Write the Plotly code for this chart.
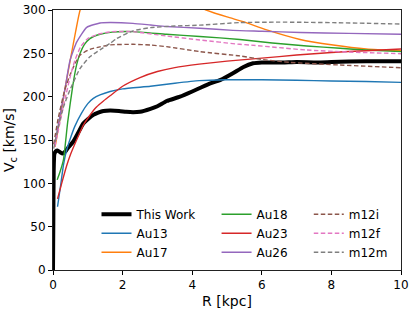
import plotly.graph_objects as go

# ---------------- data ----------------
this_work_r = [0, 0.01, 0.02, 0.04, 0.08, 0.13, 0.2, 0.28, 0.36, 0.45, 0.58, 0.72, 0.87, 1.0, 1.16, 1.3, 1.45,
               1.64, 1.9, 2.1, 2.3, 2.5, 2.8, 3.0, 3.27, 3.65, 4.0, 4.22, 4.5, 4.8, 5.17, 5.46, 5.75, 6.0,
               6.6, 7.0, 7.6, 8.0, 9.0, 10.0]
this_work_v = [0, 60, 115, 134, 137, 138, 136, 134.5, 137, 142, 148, 158, 169, 174, 179, 181.5, 183.5,
               184, 183.5, 182.5, 182, 182.5, 186, 189, 195, 200, 206, 210, 215, 219, 227, 234, 238.5, 239.5,
               239.5, 240, 239.5, 240, 241, 241]

au13_r = [0.13, 0.22, 0.3, 0.39, 0.5, 0.63, 0.82, 1.0, 1.16, 1.35, 1.64, 2.0, 2.8, 3.5, 4.2, 5.0, 6.0, 7.0, 8.0, 9.0, 10.0]
au13_v = [73, 98, 121, 138, 152, 166, 181, 192, 198, 202, 206, 209, 212, 215.5, 218.5, 219.5, 219.5, 219, 218, 217.5, 216.5]

au17_r = [0.06, 0.15, 0.25, 0.34, 0.5, 0.65, 0.78, 1.0, 1.5, 2.0, 2.5, 3.0, 3.5, 4.0, 4.4, 5.0, 5.47, 6.14, 7.1, 8.05, 9.0, 10.0]
au17_v = [142, 163, 186, 208, 243, 275, 300, 318, 330, 333, 331, 325, 316, 307, 300, 292, 286.5, 277, 266, 259.6, 255, 253]

au18_r = [0.12, 0.2, 0.3, 0.42, 0.57, 0.68, 0.78, 0.9, 1.06, 1.35, 1.7, 2.3, 3.26, 4.22, 5.37, 6.3, 7.29, 8.25, 9.0, 10.0]
au18_v = [104, 113, 127, 170, 213, 237, 250, 260, 267, 272, 274.5, 275, 272, 269.5, 266, 262, 258.5, 255.8, 253.8, 252]

au23_r = [0.13, 0.25, 0.39, 0.5, 0.7, 0.87, 1.05, 1.25, 1.45, 1.64, 2.0, 2.5, 3.0, 3.5, 4.2, 5.0, 6.0, 7.0, 8.0, 9.0, 10.0]
au23_v = [82, 100, 120, 133, 152, 167, 178, 188, 195, 201, 212, 222, 229, 233.5, 237.5, 241, 244.5, 248, 251, 253, 255]

au26_r = [0.05, 0.2, 0.34, 0.49, 0.68, 0.97, 1.35, 1.64, 2.3, 2.8, 3.26, 4.22, 5.17, 6.0, 7.1, 8.5, 10.0]
au26_v = [144, 178, 208, 242, 263, 280, 285, 285.5, 284.6, 282.7, 281, 279, 276.5, 275.5, 274, 273, 272]

m12i_r = [0.02, 0.15, 0.34, 0.5, 0.63, 0.78, 1.06, 1.35, 1.64, 2.3, 2.8, 3.26, 4.22, 5.37, 6.0, 6.8, 8.25, 10.0]
m12i_v = [145, 175, 208, 226, 238, 248, 254.6, 257.5, 259.8, 260.4, 259.6, 257.7, 252, 247, 243, 239.6, 236.5, 233.4]

m12f_r = [0.05, 0.2, 0.35, 0.5, 0.63, 0.8, 1.0, 1.3, 1.7, 2.3, 3.26, 4.22, 5.37, 5.66, 7.29, 8.5, 10.0]
m12f_v = [142, 170, 198, 224, 242, 258, 267, 272, 275, 275, 270, 265.4, 260.4, 259.6, 253.8, 251.5, 249.6]

m12m_r = [0.02, 0.15, 0.3, 0.49, 0.78, 1.06, 1.35, 1.64, 1.83, 2.3, 2.8, 3.5, 4.22, 5.37, 6.5, 8.05, 10.0]
m12m_v = [140, 165, 188, 208, 232.7, 246, 254, 261.5, 267, 276, 279.6, 281.5, 282.5, 285.5, 286, 285.4, 283.8]

x_ticks = [0, 2, 4, 6, 8, 10]
y_ticks = [0, 50, 100, 150, 200, 250, 300]

# ---------------- figure ----------------
FONT = "DejaVu Sans"
fig = go.Figure()

series = [
    ("This Work", this_work_r, this_work_v, "black", 4, "solid", "legend"),
    ("Au13", au13_r, au13_v, "#1f77b4", 1.4, "solid", "legend"),
    ("Au17", au17_r, au17_v, "#ff7f0e", 1.4, "solid", "legend"),
    ("Au18", au18_r, au18_v, "#2ca02c", 1.4, "solid", "legend2"),
    ("Au23", au23_r, au23_v, "#d62728", 1.4, "solid", "legend2"),
    ("Au26", au26_r, au26_v, "#9467bd", 1.4, "solid", "legend2"),
    ("m12i", m12i_r, m12i_v, "#8c564b", 1.4, "4.5px,2.5px", "legend3"),
    ("m12f", m12f_r, m12f_v, "#e377c2", 1.4, "4.5px,2.5px", "legend3"),
    ("m12m", m12m_r, m12m_v, "#7f7f7f", 1.4, "4.5px,2.5px", "legend3"),
]
for name, r, v, col, w, dash, lg in series:
    fig.add_trace(go.Scatter(x=r, y=v, mode="lines", name=name, legend=lg,
                             line=dict(color=col, width=w, dash=dash, shape="spline", smoothing=0.5)))

leg_common = dict(bgcolor="rgba(0,0,0,0)", borderwidth=0, font=dict(family=FONT, size=12, color="black"),
                  xanchor="left", yanchor="top", orientation="v", tracegroupgap=0)
fig.update_layout(
    width=415, height=311,
    margin=dict(l=53, r=14, t=10, b=41, autoexpand=False),
    paper_bgcolor="white", plot_bgcolor="white",
    font=dict(family=FONT, size=12, color="black"),
    legend=dict(x=0.125, y=0.27, **leg_common),
    legend2=dict(x=0.47, y=0.27, **leg_common),
    legend3=dict(x=0.735, y=0.27, **leg_common),
    xaxis=dict(range=[0, 10], tickvals=x_ticks, ticks="outside", ticklen=4, tickwidth=1, tickcolor="black",
               showline=True, linecolor="#222", linewidth=1, mirror=True, showgrid=False, zeroline=False,
               tickfont=dict(size=12), automargin=False,
               title=dict(text="R [kpc]", font=dict(size=14), standoff=4)),
    yaxis=dict(range=[0, 300], tickvals=y_ticks, ticks="outside", ticklen=4, tickwidth=1, tickcolor="black",
               showline=True, linecolor="#222", linewidth=1, mirror=True, showgrid=False, zeroline=False,
               tickfont=dict(size=12), automargin=False,
               title=dict(text="V<sub>c</sub> [km/s]", font=dict(size=14), standoff=4)),
)

fig.write_html("out.html", config={"displayModeBar": False},
               post_script="document.body.style.margin='0';document.body.style.overflow='hidden';")
